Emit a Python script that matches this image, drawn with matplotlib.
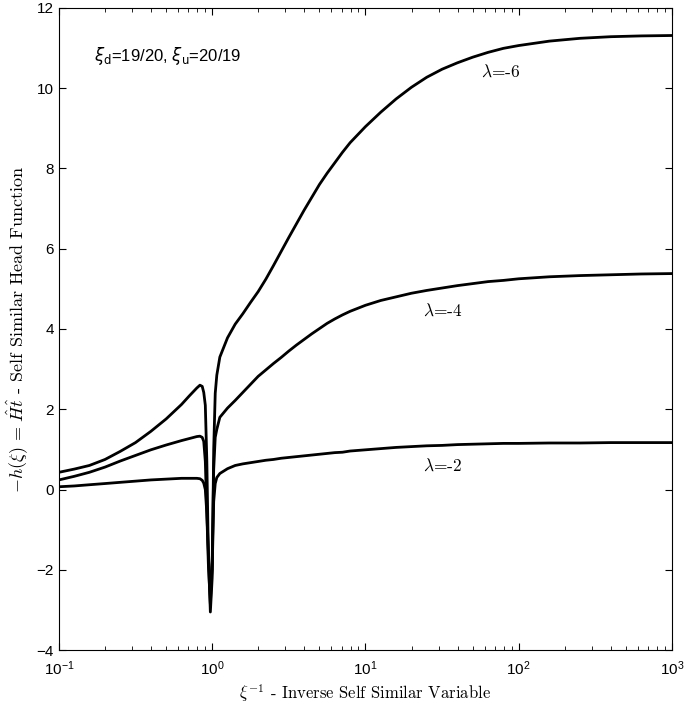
import matplotlib
matplotlib.use("Agg")
import matplotlib.pyplot as plt
from matplotlib.ticker import LogLocator, NullFormatter

plt.rcParams['font.family'] = ['Liberation Sans', 'DejaVu Sans']
plt.rcParams['mathtext.fontset'] = 'cm'

# inverse self-similar variable xi^-1
xi_inv = [0.1, 0.126, 0.158, 0.2, 0.251, 0.316, 0.398, 0.501, 0.631, 0.708,
          0.794, 0.832, 0.861, 0.881, 0.902, 0.923, 0.944, 0.973,
          1.0, 1.023, 1.047, 1.072,
          1.122, 1.259, 1.413, 1.585, 1.778, 1.995, 2.239, 2.512, 2.818, 3.162,
          3.548, 3.981, 4.467, 5.012, 5.623, 6.310, 7.079, 7.943,
          10.0, 12.59, 15.85, 19.95, 25.12, 31.62, 39.81, 50.12, 63.10, 79.43,
          100.0, 158.5, 251.2, 398.1, 631.0, 1000.0]

h_lam6 = [0.43, 0.51, 0.60, 0.75, 0.95, 1.17, 1.45, 1.76, 2.12, 2.33,
          2.53, 2.60, 2.57, 2.42, 2.10, 0.70, -1.60, -3.05,
          -2.20, 1.00, 2.40, 2.85,
          3.30, 3.78, 4.12, 4.38, 4.66, 4.93, 5.24, 5.58, 5.93, 6.28,
          6.62, 6.96, 7.28, 7.60, 7.88, 8.14, 8.40, 8.64,
          9.04, 9.40, 9.73, 10.02, 10.27, 10.47, 10.63, 10.77, 10.89, 10.99,
          11.06, 11.17, 11.24, 11.28, 11.30, 11.31]

h_lam4 = [0.24, 0.33, 0.43, 0.56, 0.71, 0.85, 0.99, 1.11, 1.22, 1.27,
          1.32, 1.33, 1.30, 1.20, 0.70, -0.60, -1.85, -2.85,
          -1.80, 0.50, 1.30, 1.50,
          1.80, 2.03, 2.22, 2.42, 2.62, 2.82, 2.98, 3.14, 3.29, 3.45,
          3.60, 3.74, 3.88, 4.01, 4.14, 4.25, 4.35, 4.44,
          4.59, 4.71, 4.80, 4.89, 4.96, 5.02, 5.08, 5.13, 5.18, 5.21,
          5.25, 5.30, 5.33, 5.35, 5.37, 5.38]

h_lam2 = [0.07, 0.09, 0.12, 0.15, 0.18, 0.21, 0.24, 0.26, 0.28, 0.28,
          0.28, 0.27, 0.23, 0.16, 0.00, -0.60, -1.50, -2.60,
          -2.00, -0.30, 0.15, 0.30,
          0.40, 0.52, 0.60, 0.64, 0.67, 0.70, 0.73, 0.75, 0.78, 0.80,
          0.82, 0.84, 0.86, 0.88, 0.90, 0.92, 0.93, 0.96,
          0.99, 1.02, 1.05, 1.07, 1.09, 1.10, 1.12, 1.13, 1.14, 1.15,
          1.15, 1.16, 1.16, 1.17, 1.17, 1.17]

curve_labels = [r'$\lambda$=-6', r'$\lambda$=-4', r'$\lambda$=-2']
label_x = [76, 32, 32]
label_y = [10.42, 4.46, 0.6]

fig = plt.figure(figsize=(6.85, 7.09), dpi=100)
ax = fig.add_axes([0.086, 0.083, 0.895, 0.906])

for h in (h_lam6, h_lam4, h_lam2):
    ax.plot(xi_inv, h, color='black', lw=2.0)

for t, xx, yy in zip(curve_labels, label_x, label_y):
    ax.text(xx, yy, t, ha='center', va='center', fontsize=12.5,
            family='cmr10', math_fontfamily='cm')

ax.text(0.17, 10.8, r'$\xi_{\mathrm{d}}$=19/20, $\xi_{\mathrm{u}}$=20/19',
        ha='left', va='center', fontsize=12, math_fontfamily='dejavusans')

ax.set_xscale('log')
ax.set_xlim(0.1, 1000)
ax.set_ylim(-4, 12)
ax.set_yticks(range(-4, 13, 2))
ax.xaxis.set_minor_locator(LogLocator(base=10, subs=range(2, 10), numticks=20))
ax.xaxis.set_minor_formatter(NullFormatter())
ax.tick_params(which='both', direction='in', top=True, right=True, labelsize=11)
ax.tick_params(which='major', length=5)
ax.tick_params(which='minor', length=3)
ax.tick_params(axis='x', which='major', pad=7)

ax.set_xlabel(r'$\xi^{-1}$ - Inverse Self Similar Variable', fontsize=12,
              family='cmr10', math_fontfamily='cm', labelpad=3)
ax.set_ylabel(r'$-h(\xi)\,=\,\hat{H}\hat{t}$ - Self Similar Head Function', fontsize=13,
              family='cmr10', math_fontfamily='cm', labelpad=5)

fig.savefig('out.png', dpi=100)
